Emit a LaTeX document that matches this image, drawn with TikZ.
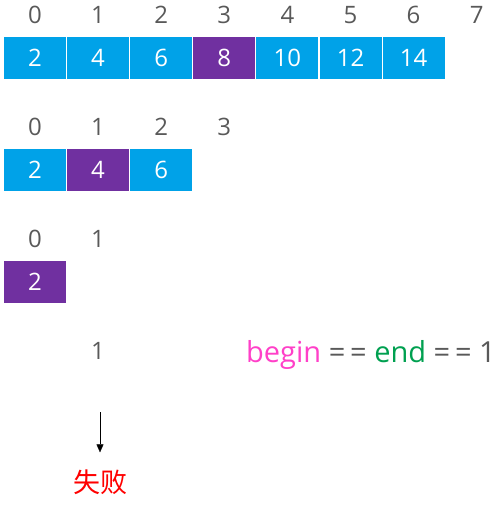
\documentclass[tikz,border=0pt]{standalone}
\usepackage{fontspec}
\setmainfont{Open Sans}
\newfontfamily\cjk{Noto Sans CJK SC}
\usetikzlibrary{arrows.meta}
\definecolor{cellblue}{RGB}{0,162,232}
\definecolor{cellpurple}{RGB}{112,48,160}
\definecolor{idxgray}{RGB}{89,89,89}
\definecolor{beginpink}{RGB}{255,64,200}
\definecolor{endgreen}{RGB}{0,160,80}
\tikzset{
  cell/.style = {rectangle, fill = cellblue, text = white, minimum width = 62pt, minimum height = 42pt, inner sep = 0pt, font = \fontsize{24}{24}\selectfont},
  mid/.style = {cell, fill = cellpurple},
  idx/.style = {text = idxgray, inner sep = 0pt, font = \fontsize{24}{24}\selectfont}
}

\begin{document}
\begin{tikzpicture}[x = 1pt, y = -1pt]
			\useasboundingbox (0, 0) rectangle (502, 512);
			% first search: 0..7
			\foreach \i in {0, ..., 7} \node[idx] (a\i) at (35 + 63.1*\i, 15) {\i};
			\node[cell] (c0) at (35, 58) {2};
			\node[cell] (c1) at (98.1, 58) {4};
			\node[cell] (c2) at (161.2, 58) {6};
			\node[mid] (c3) at (224.3, 58) {8};
			\node[cell] (c4) at (287.4, 58) {10};
			\node[cell] (c5) at (350.5, 58) {12};
			\node[cell] (c6) at (413.6, 58) {14};
			% second search: 0..3
			\foreach \i in {0, ..., 3} \node[idx] (b\i) at (35 + 63.1*\i, 127) {\i};
			\node[cell] (d0) at (35, 170) {2};
			\node[mid] (d1) at (98.1, 170) {4};
			\node[cell] (d2) at (161.2, 170) {6};
			% third search: 0..1
			\node[idx] (e0) at (35, 239) {0};
			\node[idx] (e1) at (98.1, 239) {1};
			\node[mid] (f0) at (35, 282) {2};
			% begin == end
			\node[idx] (k) at (98.1, 351) {1};
			\node[anchor = west, inner sep = 0pt, font = \fontsize{29}{29}\selectfont] (cond) at (246, 355) {\textcolor{beginpink}{begin} \textcolor{idxgray}{=\,=} \textcolor{endgreen}{end} \textcolor{idxgray}{=\,= 1}};
			\coordinate (top) at (100, 412);
			\node[text = red, inner sep = 0pt, font = \cjk\fontsize{27}{27}\selectfont] (fail) at (100, 482) {失败};
			\draw[-{Triangle[width = 7pt, length = 8pt]}, shorten > = 17pt] (top) -- (fail.north -| top);
		\end{tikzpicture}
\end{document}
